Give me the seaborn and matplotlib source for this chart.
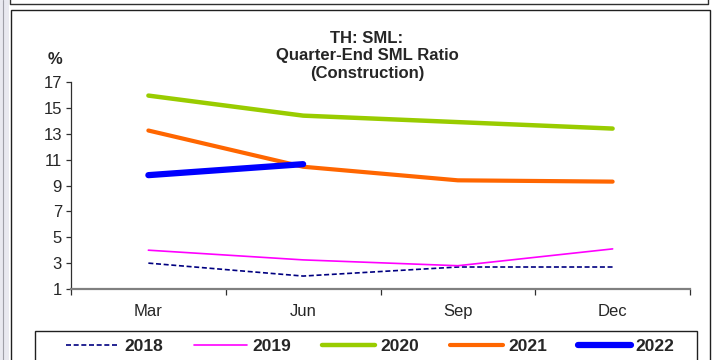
import numpy as np
import pandas as pd
import matplotlib
matplotlib.use("Agg")
import matplotlib.pyplot as plt
from matplotlib.patches import Rectangle
from matplotlib.lines import Line2D
import seaborn as sns

# Quarter-end SML ratio, construction sector (%)
months = ["Mar", "Jun", "Sep", "Dec"]
years = ["2018", "2019", "2020", "2021", "2022"]
sml_2018 = [3.0, 2.0, 2.7, 2.7]
sml_2019 = [4.0, 3.25, 2.8, 4.1]
sml_2020 = [15.95, 14.4, 13.9, 13.4]
sml_2021 = [13.25, 10.45, 9.4, 9.3]
sml_2022 = [9.8, 10.65]
y_ticks = [1, 3, 5, 7, 9, 11, 13, 15, 17]

series = [sml_2018, sml_2019, sml_2020, sml_2021, sml_2022]
rows = []
for yr, vals in zip(years, series):
    for i, v in enumerate(vals):
        rows.append({"year": yr, "pos": i, "value": v})
df = pd.DataFrame(rows)

colors = {"2018": "#000080", "2019": "#FF00FF", "2020": "#99CC00",
          "2021": "#FF6600", "2022": "#0000FF"}
widths = {"2018": 1.2, "2019": 1.2, "2020": 3.2, "2021": 3.0, "2022": 4.5}
styles = {"2018": (0, (3, 1.6)), "2019": "-", "2020": "-", "2021": "-", "2022": "-"}

sns.set_style("white")
plt.rcParams["font.family"] = ["Liberation Sans", "DejaVu Sans"]

fig = plt.figure(figsize=(7.12, 3.60), dpi=100)
fig.patch.set_facecolor("white")
W, H = 712, 360


def fx(px):
    return px / W


def fy(py):
    return 1 - py / H


# surrounding panel frames
fig.patches.append(Rectangle((0, 0), fx(9), 1, transform=fig.transFigure,
                             facecolor="#e9e9f0", edgecolor="none", zorder=-2))
fig.add_artist(Line2D([fx(3), fx(3)], [0, 1], transform=fig.transFigure,
                      color="#a0a0a8", lw=0.8, zorder=-1))
fig.patches.append(Rectangle((fx(10.5), -0.05), fx(699.5), 1.05 - 10.5 / H,
                             transform=fig.transFigure, facecolor="white",
                             edgecolor="#202020", lw=1.0, zorder=-1))
fig.add_artist(Line2D([fx(10), fx(10), fx(708), fx(708)],
                      [1.01, fy(4), fy(4), 1.01],
                      transform=fig.transFigure, color="#303030", lw=1.0, zorder=-1))

ax = fig.add_axes([fx(71), fy(289), fx(619), 207 / H])
ax.set_facecolor("none")
ax.set_zorder(2)

for yr in years:
    sub = df[df["year"] == yr]
    sns.lineplot(data=sub, x="pos", y="value", ax=ax, color=colors[yr],
                 lw=widths[yr], linestyle=styles[yr], label=yr,
                 solid_capstyle="round", dash_capstyle="butt")

ax.set_xlim(-0.5, 3.5)
ax.set_ylim(1, 17)
ax.set_yticks(y_ticks)
ax.set_xticks(range(len(months)))
ax.set_xticklabels(months)
ax.set_xticks(np.arange(-0.5, 4.0, 1.0), minor=True)
ax.set_xlabel("")
ax.set_ylabel("")

for side in ["top", "right"]:
    ax.spines[side].set_visible(False)
ax.spines["left"].set_color("#303030")
ax.spines["left"].set_linewidth(0.9)
ax.spines["bottom"].set_color("#808080")
ax.spines["bottom"].set_linewidth(1.6)

ax.tick_params(axis="y", which="major", direction="out", length=3.5, width=0.9,
               color="#303030", labelsize=12, pad=3, left=True)
ax.tick_params(axis="x", which="major", length=0, labelsize=12, pad=11, bottom=True)
ax.tick_params(axis="x", which="minor", direction="out", length=4, width=0.9,
               color="#303030", bottom=True)

fig.text(fx(55), fy(60), "%", ha="center", va="center",
         fontsize=12, fontweight="bold")
fig.text(fx(367), fy(31), "TH: SML:\nQuarter-End SML Ratio\n(Construction)",
         ha="center", va="top", fontsize=12, fontweight="bold", linespacing=1.2)

# legend box below the chart
fig.patches.append(Rectangle((fx(35), fy(361)), fx(662), 30 / H,
                             transform=fig.transFigure, facecolor="white",
                             edgecolor="#202020", lw=1.0, zorder=1))
handles, labels = ax.get_legend_handles_labels()
if ax.legend_:
    ax.legend_.remove()
leg = fig.legend(handles, labels, loc="center",
                 bbox_to_anchor=(fx(370.5), fy(346)),
                 ncol=5, frameon=False, handlelength=3.05, handletextpad=0.3,
                 columnspacing=1.78, borderpad=0, borderaxespad=0,
                 prop={"weight": "bold", "size": 12.5})
leg.set_zorder(3)

fig.savefig("out.png", dpi=100)
